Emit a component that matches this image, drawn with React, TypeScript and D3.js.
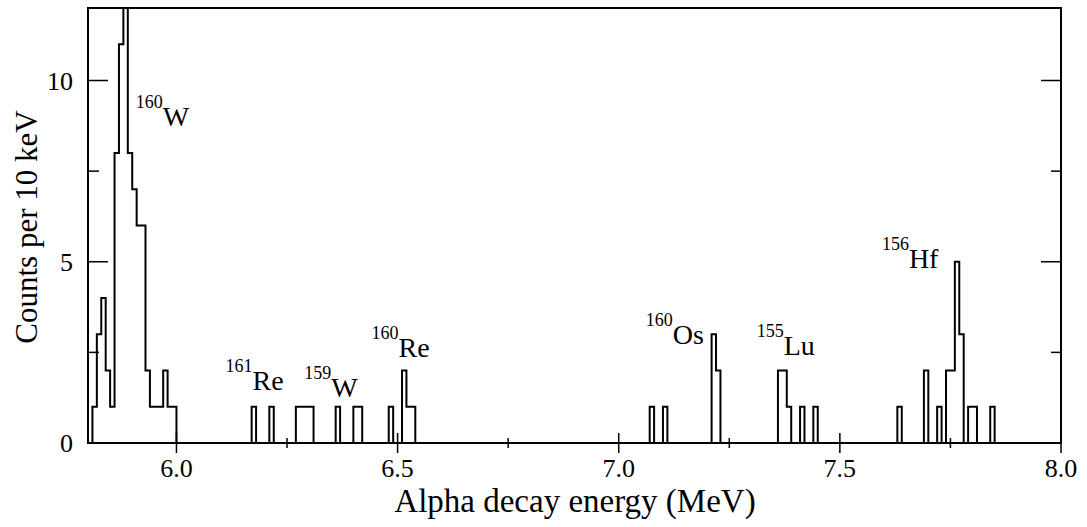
import React from "react";
import * as d3 from "d3";

// Nonzero histogram bins (bin start energy in MeV, 10 keV bins) and counts
const binStarts = [
  5.81, 5.82, 5.83, 5.84, 5.85, 5.86, 5.87, 5.88, 5.89, 5.90, 5.91, 5.92, 5.93, 5.94, 5.95, 5.96, 5.97, 5.98, 5.99,
  6.17, 6.21, 6.27, 6.28, 6.29, 6.30, 6.36, 6.40, 6.41, 6.48, 6.51, 6.52, 6.53,
  7.07, 7.10, 7.21, 7.22, 7.36, 7.37, 7.38, 7.41, 7.44,
  7.63, 7.69, 7.72, 7.74, 7.75, 7.76, 7.77, 7.79, 7.80, 7.84,
];
const binCounts = [
  1, 3, 4, 2, 1, 8, 11, 15, 8, 7, 6, 6, 2, 1, 1, 1, 2, 1, 1,
  1, 1, 1, 1, 1, 1, 1, 1, 1, 1, 2, 1, 1,
  1, 1, 3, 2, 2, 2, 1, 1, 1,
  1, 2, 1, 2, 2, 5, 3, 1, 1, 1,
];

const xMajorTicks = [6.0, 6.5, 7.0, 7.5, 8.0];
const xMinorTicks = [6.25, 6.75, 7.25, 7.75];
const yMajorTicks = [0, 5, 10];
const yMinorTicks = [2.5, 7.5];

// Isotope labels: mass number, element, anchor energy, anchor count
const labelMass = ["160", "161", "159", "160", "160", "155", "156"];
const labelElem = ["W", "Re", "W", "Re", "Os", "Lu", "Hf"];
const labelE = [5.908, 6.111, 6.289, 6.441, 7.061, 7.312, 7.595];
const labelY = [8.75, 1.45, 1.27, 2.37, 2.73, 2.42, 4.82];

const BIN = 0.01;
const X_MIN = 5.8;
const X_MAX = 8.0;

const FONT = "Liberation Serif, Tinos, Times New Roman, DejaVu Serif, Noto Serif, serif";

export default function App() {
  const W = 1087;
  const H = 527;
  const left = 88, right = 1061, top = 8, bottom = 443;
  const x = d3.scaleLinear().domain([X_MIN, X_MAX]).range([left, right]);
  const y = d3.scaleLinear().domain([0, 12]).range([bottom, top]);

  const nBins = Math.round((X_MAX - X_MIN) / BIN);
  const counts = new Array(nBins).fill(0);
  binStarts.forEach((e, i) => {
    const k = Math.round((e - X_MIN) / BIN);
    counts[k] = binCounts[i];
  });
  const pts = counts.map((c, k) => ({ e: X_MIN + k * BIN, c }));
  pts.push({ e: X_MAX, c: 0 });
  const line = d3
    .line<{ e: number; c: number }>()
    .x((d) => x(d.e))
    .y((d) => y(d.c))
    .curve(d3.curveStepAfter);
  const path = line(pts) || "";

  return (
    <svg
      width={W}
      height={H}
      style={{ position: "absolute", left: 0, top: 0, background: "#fff" }}
    >
      <defs>
        <clipPath id="plotclip">
          <rect x={left} y={top} width={right - left} height={bottom - top + 2} />
        </clipPath>
      </defs>
      <rect x={0} y={0} width={W} height={H} fill="#fff" />
      <path
        d={path}
        fill="none"
        stroke="#000"
        strokeWidth={2}
        strokeLinejoin="miter"
        clipPath="url(#plotclip)"
      />
      {/* frame */}
      <rect x={left} y={top} width={right - left} height={bottom - top} fill="none" stroke="#000" strokeWidth={2} />
      {/* x ticks */}
      {xMajorTicks.map((t) => (
        <line key={"xM" + t} x1={x(t)} x2={x(t)} y1={bottom - 10} y2={bottom + 10} stroke="#000" strokeWidth={1.5} />
      ))}
      {xMinorTicks.map((t) => (
        <line key={"xm" + t} x1={x(t)} x2={x(t)} y1={bottom - 5} y2={bottom + 5} stroke="#000" strokeWidth={1.5} />
      ))}
      <g fontFamily={FONT}>
        {xMajorTicks.map((t) => (
          <text key={"xl" + t} x={x(t)} y={477} fontSize={26} textAnchor="middle">
            {t.toFixed(1)}
          </text>
        ))}
        {yMajorTicks.map((t) => (
          <text key={"yl" + t} x={73} y={y(t) + 9} fontSize={26} textAnchor="end">
            {t}
          </text>
        ))}
        {/* isotope labels */}
        {labelMass.map((m, i) => (
          <text key={"lab" + i} x={x(labelE[i])} y={y(labelY[i])} fontSize={28}>
            <tspan fontSize={18} dy={-18}>{m}</tspan>
            <tspan dy={18}>{labelElem[i]}</tspan>
          </text>
        ))}
        {/* axis titles */}
        <text x={575} y={512} fontSize={33} textAnchor="middle">
          Alpha decay energy (MeV)
        </text>
        <text transform={`translate(37,227) rotate(-90)`} fontSize={31} textAnchor="middle">
          Counts per 10 keV
        </text>
      </g>
      {/* y ticks left & right */}
      {yMajorTicks.map((t) => (
        <g key={"yM" + t}>
          <line x1={left} x2={left + 20} y1={y(t)} y2={y(t)} stroke="#000" strokeWidth={1.5} />
          <line x1={right - 20} x2={right} y1={y(t)} y2={y(t)} stroke="#000" strokeWidth={1.5} />
        </g>
      ))}
      {yMinorTicks.map((t) => (
        <g key={"ym" + t}>
          <line x1={left} x2={left + 11} y1={y(t)} y2={y(t)} stroke="#000" strokeWidth={1.5} />
          <line x1={right - 10} x2={right} y1={y(t)} y2={y(t)} stroke="#000" strokeWidth={1.5} />
        </g>
      ))}
    </svg>
  );
}
